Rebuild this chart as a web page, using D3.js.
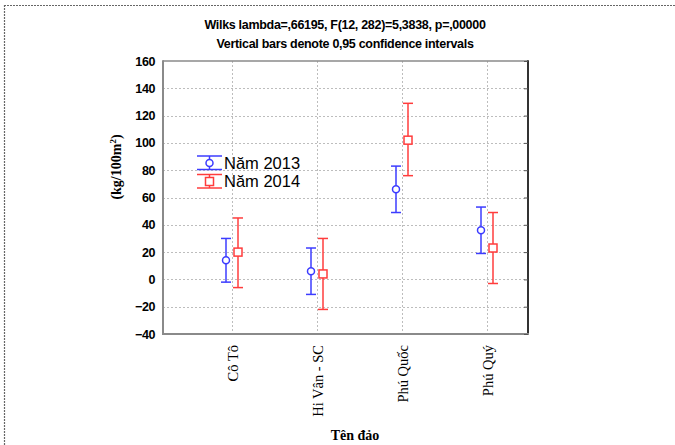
<!DOCTYPE html>
<html>
<head>
<meta charset="utf-8">
<script src="https://cdn.jsdelivr.net/npm/d3@7/dist/d3.min.js"></script>
<style>
  html, body { margin: 0; padding: 0; background: #fff; }
  svg { display: block; }
</style>
</head>
<body>
<svg id="chart" width="675" height="445"></svg>
<script>
// Islands (x categories)
const categories = ["Cô Tô", "Hi Vân - SC", "Phú Quốc", "Phú Quý"];

// Means and 95% confidence limits, kg/100m²
const mean2013  = [14, 6, 66, 36];
const lower2013 = [-2, -11, 49, 19];
const upper2013 = [30, 23, 83, 53];

const mean2014  = [20, 4, 102, 23];
const lower2014 = [-6, -22, 76, -3];
const upper2014 = [45, 30, 129, 49];

const seriesNames = ["Năm 2013", "Năm 2014"];
const yTicks = [-40, -20, 0, 20, 40, 60, 80, 100, 120, 140, 160];

const titleLines = [
  "Wilks lambda=,66195, F(12, 282)=5,3838, p=,00000",
  "Vertical bars denote 0,95 confidence intervals"
];

const BLUE = "#3c3cff";
const RED = "#ff3c3c";

const svg = d3.select("#chart");
const plot = { left: 163, right: 528, top: 61, bottom: 334 };

const y = d3.scaleLinear().domain([-40, 160]).range([plot.bottom, plot.top]);
const x = d3.scalePoint().domain(categories).range([232, 487]);

const series = [
  { name: seriesNames[0], mean: mean2013, lo: lower2013, hi: upper2013, color: BLUE, shape: "circle", dx: -6 },
  { name: seriesNames[1], mean: mean2014, lo: lower2014, hi: upper2014, color: RED, shape: "square", dx: 6 }
];

// Dotted page border (top and left)
svg.append("line").attr("x1", 4).attr("x2", 675).attr("y1", 5.5).attr("y2", 5.5)
  .attr("stroke", "#666").attr("stroke-width", 1.2).attr("stroke-dasharray", "2,1");
svg.append("line").attr("x1", 4.5).attr("x2", 4.5).attr("y1", 5).attr("y2", 445)
  .attr("stroke", "#666").attr("stroke-width", 1.2).attr("stroke-dasharray", "2,1");

// Titles
svg.selectAll("text.title").data(titleLines).enter().append("text")
  .attr("class", "title")
  .attr("x", 345).attr("y", (d, i) => 29 + i * 19)
  .attr("text-anchor", "middle")
  .attr("font-family", "Liberation Sans, Arial, sans-serif")
  .attr("font-weight", "bold").attr("font-size", 12.5)
  .attr("letter-spacing", -0.3)
  .text(d => d);

// Grid lines
const grid = svg.append("g");
grid.selectAll("line.hg").data(yTicks.filter(t => t > -40 && t < 160)).enter().append("line")
  .attr("x1", plot.left).attr("x2", plot.right)
  .attr("y1", d => Math.round(y(d)) + 0.5).attr("y2", d => Math.round(y(d)) + 0.5)
  .attr("stroke", "#bdbdbd").attr("stroke-width", 1).attr("stroke-dasharray", "2,2");
grid.selectAll("line.vg").data(categories).enter().append("line")
  .attr("x1", d => Math.round(x(d)) + 0.5).attr("x2", d => Math.round(x(d)) + 0.5)
  .attr("y1", plot.top).attr("y2", plot.bottom)
  .attr("stroke", "#bdbdbd").attr("stroke-width", 1).attr("stroke-dasharray", "2,2");

// Frame
svg.append("line").attr("x1", plot.left).attr("x2", plot.right).attr("y1", plot.top).attr("y2", plot.top)
  .attr("stroke", "#8a8a8a").attr("stroke-width", 1.5);
svg.append("line").attr("x1", plot.right).attr("x2", plot.right).attr("y1", plot.top - 0.75).attr("y2", plot.bottom + 1)
  .attr("stroke", "#333").attr("stroke-width", 2);
svg.append("line").attr("x1", plot.left).attr("x2", plot.right + 1).attr("y1", plot.bottom).attr("y2", plot.bottom)
  .attr("stroke", "#8a8a8a").attr("stroke-width", 2);
svg.append("line").attr("x1", plot.left).attr("x2", plot.left).attr("y1", plot.top - 0.75).attr("y2", plot.bottom + 1)
  .attr("stroke", "#8a8a8a").attr("stroke-width", 2);

// Left axis labels
const yAxis = d3.axisLeft(y).tickValues(yTicks).tickSize(0).tickPadding(8);
const gy = svg.append("g").attr("transform", `translate(${plot.left},0)`).call(yAxis);
gy.select(".domain").remove();
gy.selectAll("text")
  .attr("font-family", "Liberation Sans, Arial, sans-serif")
  .attr("font-weight", "bold").attr("font-size", 12.5).attr("fill", "#000")
  .attr("letter-spacing", -0.4);

// Right inward ticks
const yRight = d3.axisLeft(y).tickValues(yTicks).tickSize(4).tickFormat("");
const gr = svg.append("g").attr("transform", `translate(${plot.right},0)`).call(yRight);
gr.select(".domain").remove();
gr.selectAll("line").attr("stroke", "#555");

// Bottom axis (rotated island names)
const xAxis = d3.axisBottom(x).tickSize(0).tickPadding(0);
const gx = svg.append("g").attr("transform", `translate(0,${plot.bottom})`).call(xAxis);
gx.select(".domain").remove();
gx.selectAll("text")
  .attr("transform", "rotate(-90)")
  .attr("text-anchor", "end")
  .attr("dy", "0.35em")
  .attr("x", -11).attr("y", 0)
  .attr("font-family", "Liberation Serif, Times New Roman, serif")
  .attr("font-size", 14.5).attr("fill", "#000");

// Axis titles
svg.append("text")
  .attr("transform", "translate(121,167) rotate(-90)")
  .attr("text-anchor", "middle")
  .attr("font-family", "Liberation Serif, Times New Roman, serif")
  .attr("font-weight", "bold").attr("font-size", 14)
  .call(t => {
    t.append("tspan").text("(kg/100m");
    t.append("tspan").attr("baseline-shift", "super").attr("font-size", 9).text("2");
    t.append("tspan").text(")");
  });

svg.append("text")
  .attr("x", 355).attr("y", 440)
  .attr("text-anchor", "middle")
  .attr("font-family", "Liberation Serif, Times New Roman, serif")
  .attr("font-weight", "bold").attr("font-size", 14)
  .text("Tên đảo");

// Error bars and mean markers
const cap = 5;
function drawMarker(g, shape, cx, cy, color) {
  if (shape === "circle") {
    g.append("circle").attr("cx", cx).attr("cy", cy).attr("r", 3.5)
      .attr("fill", "#fff").attr("stroke", color).attr("stroke-width", 1.5);
  } else {
    g.append("rect").attr("x", cx - 4).attr("y", cy - 4).attr("width", 8).attr("height", 8)
      .attr("fill", "#fff").attr("stroke", color).attr("stroke-width", 1.5);
  }
}

series.forEach(s => {
  const g = svg.append("g");
  categories.forEach((c, i) => {
    const cx = x(c) + s.dx;
    g.append("line").attr("x1", cx).attr("x2", cx).attr("y1", y(s.hi[i])).attr("y2", y(s.lo[i]))
      .attr("stroke", s.color).attr("stroke-width", 1.5);
    [s.hi[i], s.lo[i]].forEach(v => {
      g.append("line").attr("x1", cx - cap).attr("x2", cx + cap).attr("y1", y(v)).attr("y2", y(v))
        .attr("stroke", s.color).attr("stroke-width", 1.5);
    });
    drawMarker(g, s.shape, cx, y(s.mean[i]), s.color);
  });
});

// Legend
const legend = svg.append("g");
series.forEach((s, i) => {
  const cy = 163 + i * 18.5;
  const lg = legend.append("g");
  const x0 = 197, x1 = 222, cx = (x0 + x1) / 2;
  lg.append("line").attr("x1", x0).attr("x2", x1).attr("y1", cy - 7).attr("y2", cy - 7)
    .attr("stroke", s.color).attr("stroke-width", 1.5);
  lg.append("line").attr("x1", x0).attr("x2", x1).attr("y1", cy + 6.5).attr("y2", cy + 6.5)
    .attr("stroke", s.color).attr("stroke-width", 1.5);
  lg.append("line").attr("x1", cx).attr("x2", cx).attr("y1", cy - 7).attr("y2", cy + 6.5)
    .attr("stroke", s.color).attr("stroke-width", 1.5);
  drawMarker(lg, s.shape, cx, cy, s.color);
  lg.append("text").attr("x", 224).attr("y", cy + 5.5)
    .attr("font-family", "Liberation Sans, Arial, sans-serif")
    .attr("font-size", 16.5).attr("fill", "#000")
    .text(s.name);
});
</script>
</body>
</html>
